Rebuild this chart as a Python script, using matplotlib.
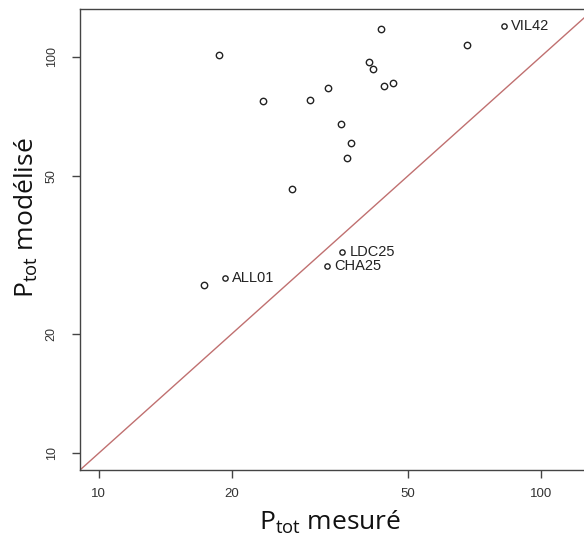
import matplotlib
matplotlib.use("Agg")
import matplotlib.pyplot as plt
import numpy as np

# measured vs modelled Ptot
mesure = [18.7, 23.5, 27.3, 30.0, 33.1, 35.4, 37.2, 36.4, 40.9, 41.7,
          43.6, 44.2, 46.4, 68.0, 17.3]
modelise = [100.8, 77.4, 46.5, 77.7, 83.4, 67.6, 60.7, 55.7, 97.1, 93.3,
            117.7, 84.3, 85.9, 107.0, 26.5]

# labelled stations
noms = ["VIL42", "ALL01", "CHA25", "LDC25"]
mesure_lab = [82.8, 19.3, 32.9, 35.6]
modelise_lab = [119.7, 27.6, 29.6, 32.1]

ticks = [10, 20, 50, 100]
lims = (9.07, 132)

fig = plt.figure(figsize=(5.84, 5.45), dpi=100)
ax = fig.add_axes([80 / 584, 75 / 545, 514 / 584, 461 / 545])
ax.set_xscale("log")
ax.set_yscale("log")
ax.set_xlim(lims)
ax.set_ylim(lims)

ax.plot(lims, lims, color="#c07070", lw=1.0, zorder=1)
ax.plot(mesure, modelise, "o", mfc="none", mec="#222222", mew=1.0, ms=4.6, zorder=3)
ax.plot(mesure_lab, modelise_lab, "o", mfc="none", mec="#222222", mew=1.0, ms=3.8, zorder=3)
for n, x, y in zip(noms, mesure_lab, modelise_lab):
    ax.annotate(n, (x, y), xytext=(5, 0), textcoords="offset points",
                ha="left", va="center", fontsize=10.5, family="Liberation Sans",
                color="#222222")

ax.set_xticks(ticks)
ax.set_yticks(ticks)
ax.xaxis.set_minor_locator(matplotlib.ticker.NullLocator())
ax.yaxis.set_minor_locator(matplotlib.ticker.NullLocator())
ax.set_xticklabels([str(t) for t in ticks], family="Liberation Sans", fontsize=9.5, color="#333333")
ax.set_yticklabels([str(t) for t in ticks], family="Liberation Sans", fontsize=9, color="#333333",
                   rotation=90, va="center")
ax.tick_params(direction="out", length=6, width=1, color="#444444")
ax.tick_params(axis="x", pad=7)
ax.tick_params(axis="y", pad=10)
for s in ax.spines.values():
    s.set_color("#444444")
    s.set_linewidth(1.0)

fig.text(330 / 584, 1 - 522 / 545, r"P$_{\mathregular{tot}}$ mesuré", ha="center", va="center",
         fontsize=19, family="Open Sans", color="#111111")
fig.text(26 / 584, 1 - 218 / 545, r"P$_{\mathregular{tot}}$ modélisé", ha="center", va="center",
         rotation=90, fontsize=19, family="Open Sans", color="#111111")

fig.savefig("out.png", dpi=100)
